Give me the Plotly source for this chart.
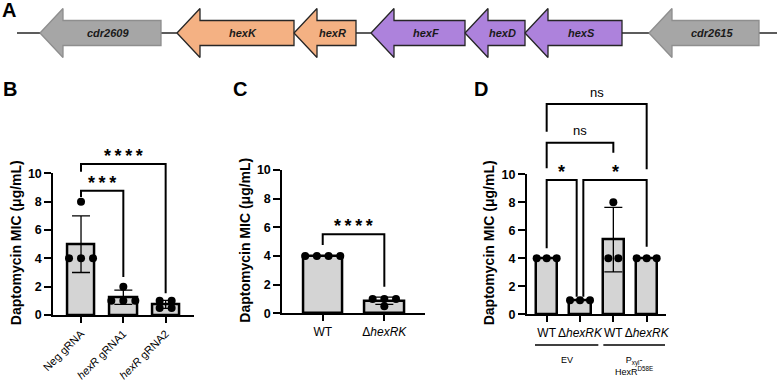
import numpy as np
import plotly.graph_objects as go

W, H = 777, 381
FONT = "Liberation Sans, Arial, Helvetica, sans-serif"

# ---------------- data ----------------
# Panel A: gene neighbourhood (all genes on the minus strand; tip = left end)
gene_names = ["cdr2609", "hexK", "hexR", "hexF", "hexD", "hexS", "cdr2615"]
gene_left = [40, 177, 294, 371, 465, 525, 649]
gene_right = [161, 294, 356, 465, 525, 622, 759]
gene_family = ["other", "hexRK", "hexRK", "hexFDS", "hexFDS", "hexFDS", "other"]
locus_span = [17, 777]

# Panel B
b_categories = ["Neg gRNA", "<i>hexR</i> gRNA1", "<i>hexR</i> gRNA2"]
b_values = [[4, 4, 4, 8], [1, 1, 1, 2], [1, 1, 0.5, 0.5]]
b_comparisons = [  # (from, to, label, top, left leg end, right leg end)
    (0, 2, "****", 10.66, 10.11, 1.53),
    (0, 1, "***", 8.77, 8.33, 2.68),
]

# Panel C
c_categories = ["WT", "Δ<i>hexRK</i>"]
c_values = [[4, 4, 4, 4], [1, 1, 1, 0.5]]
c_comparisons = [(0, 1, "****", 5.51, 4.77, 1.86)]

# Panel D
d_categories = ["WT", "Δ<i>hexRK</i>", "WT", "Δ<i>hexRK</i>"]
d_values = [[4, 4, 4], [1, 1, 1], [4, 4, 8], [4, 4, 4]]
d_comparisons = [
    (0, 3, "ns", 15.02, 13.04, 10.36),
    (0, 2, "ns", 12.26, 10.43, 11.54),
    (0, 0.9, "*", 9.59, 4.71, 1.26),
    (1.1, 3, "*", 9.59, 1.26, 4.83),
]
d_group_labels = ["EV", "P<sub>xyl</sub>-<br>HexR<sup>D58E</sup>"]
d_group_spans = [(-0.35, 1.55), (1.70, 3.55)]

y_ticks = [0, 2, 4, 6, 8, 10]
y_title = "Daptomycin MIC (μg/mL)"


# ---------------- helpers ----------------
def fx(p):
    return p / W


def fy(p):
    return 1 - p / H


def swarm(vals, step):
    totals = {v: vals.count(v) for v in set(vals)}
    seen = {}
    offs = []
    for v in vals:
        k = seen.get(v, 0)
        seen[v] = k + 1
        offs.append((k - (totals[v] - 1) / 2) * step)
    return offs


fig = go.Figure()
annotations = []
shapes = []
layout = {}

# ---------------- panel A ----------------
head_len, body_h, head_h = 23, 12.5, 24.5
fig.add_trace(go.Scatter(x=locus_span, y=[0, 0], mode="lines",
                         line=dict(color="#262626", width=1.3),
                         xaxis="x4", yaxis="y4", hoverinfo="skip"))
fam_style = {"other": ("#a6a6a6", "#8e8e8e"),
             "hexRK": ("#f4b183", "#262626"),
             "hexFDS": ("#ad82dc", "#262626")}
for name, t, e, fam in zip(gene_names, gene_left, gene_right, gene_family):
    b = t + head_len
    xs = [t, b, b, e, e, b, b, t]
    ys = [0, head_h, body_h, body_h, -body_h, -body_h, -head_h, 0]
    fill, lc = fam_style[fam]
    fig.add_trace(go.Scatter(x=xs, y=ys, mode="lines", fill="toself",
                             fillcolor=fill, line=dict(color=lc, width=1.3),
                             xaxis="x4", yaxis="y4", hoverinfo="skip"))
    annotations.append(dict(x=(t + head_len / 2 + e) / 2 + 2, y=0, xref="x4", yref="y4",
                            text=f"<b><i>{name}</i></b>", showarrow=False,
                            font=dict(family=FONT, size=11, color="#1a1a1a")))
layout["xaxis4"] = dict(domain=[0, 1], range=[0, W], visible=False, anchor="y4")
layout["yaxis4"] = dict(domain=[fy(66), 1], range=[-33, 33], visible=False, anchor="x4")

# ---------------- bar panels ----------------
panels = [
    dict(cats=b_categories, vals=b_values, comps=b_comparisons, n="", bn="5",
         xpx=(53.3, 194), y0=315, y10=173.3, xr=(-0.655, 2.67), step=12,
         tickangle=-45, tfs=11, title_x=16),
    dict(cats=c_categories, vals=c_values, comps=c_comparisons, n="2", bn="6",
         xpx=(282.3, 425), y0=313.3, y10=170, xr=(-0.656, 1.66), step=11.7,
         tickangle=0, tfs=12, title_x=245),
    dict(cats=d_categories, vals=d_values, comps=d_comparisons, n="3", bn="7",
         xpx=(527, 666), y0=314.3, y10=174.3, xr=(-0.59, 3.58), step=10,
         tickangle=0, tfs=12, title_x=489),
]

for p in panels:
    xa, ya = "x" + p["n"], "y" + p["n"]
    bxa, bya = "x" + p["bn"], "y" + p["bn"]
    idx = list(range(len(p["cats"])))
    means = [float(np.mean(v)) for v in p["vals"]]
    sds = [float(np.std(v, ddof=1)) for v in p["vals"]]
    px_per_x = (p["xpx"][1] - p["xpx"][0]) / (p["xr"][1] - p["xr"][0])
    scale_y = (p["y0"] - p["y10"]) / 10.0

    fig.add_trace(go.Bar(x=idx, y=means, width=0.64,
                         marker=dict(color="#d4d4d4", line=dict(color="black", width=2.5)),
                         error_y=dict(type="data", array=sds, color="black",
                                      thickness=1.3, width=9),
                         xaxis=xa, yaxis=ya, hoverinfo="skip"))
    px_, py_ = [], []
    for i, v in enumerate(p["vals"]):
        offs = swarm(v, p["step"] / px_per_x)
        px_ += [i + o for o in offs]
        py_ += v
    fig.add_trace(go.Scatter(x=px_, y=py_, mode="markers",
                             marker=dict(color="black", size=8),
                             cliponaxis=False, xaxis=xa, yaxis=ya, hoverinfo="skip"))

    # comparison brackets
    for (a, b, lab, top, lb, rb) in p["comps"]:
        fig.add_trace(go.Scatter(x=[a, a, b, b], y=[lb, top, top, rb], mode="lines",
                                 line=dict(color="black", width=2),
                                 xaxis=bxa, yaxis=bya, hoverinfo="skip"))
        if "*" in lab:
            txt = "\u2009".join(["*"] * len(lab))
            annotations.append(dict(x=(a + b) / 2, y=top, xref=bxa, yref=bya,
                                    text=f"<b>{txt}</b>", showarrow=False,
                                    yanchor="middle", yshift=8,
                                    font=dict(family=FONT, size=18, color="black")))
        else:
            annotations.append(dict(x=(a + b) / 2, y=top, xref=bxa, yref=bya,
                                    text=lab, showarrow=False,
                                    yanchor="middle", yshift=12,
                                    font=dict(family=FONT, size=13, color="black")))

    xdom = [fx(p["xpx"][0]), fx(p["xpx"][1])]
    key = p["n"]
    layout["xaxis" + key] = dict(
        domain=xdom, range=list(p["xr"]), anchor=ya, showline=True, linewidth=2,
        linecolor="black", ticks="outside", ticklen=6, tickwidth=2, tickcolor="black",
        tickvals=idx, ticktext=p["cats"], tickangle=p["tickangle"],
        tickfont=dict(family=FONT, size=p["tfs"], color="black"),
        showgrid=False, zeroline=False, automargin=False, fixedrange=True)
    layout["yaxis" + key] = dict(
        domain=[fy(p["y0"]), fy(p["y10"])], range=[0, 10], anchor=xa,
        showline=True, linewidth=2, linecolor="black", ticks="outside", ticklen=7,
        tickwidth=2, tickcolor="black", tickvals=y_ticks,
        tickfont=dict(family=FONT, size=12.5, color="black", weight="bold"),
        showgrid=False, zeroline=False, automargin=False, fixedrange=True)
    top_px = 40
    layout["xaxis" + p["bn"]] = dict(domain=xdom, range=list(p["xr"]), anchor=bya,
                                     visible=False, fixedrange=True)
    layout["yaxis" + p["bn"]] = dict(domain=[fy(p["y0"]), fy(top_px)],
                                     range=[0, (p["y0"] - top_px) / scale_y],
                                     anchor=bxa, visible=False, fixedrange=True)
    annotations.append(dict(x=fx(p["title_x"]), y=fy((p["y0"] + p["y10"]) / 2 - 1),
                            xref="paper", yref="paper", text=f"<b>{y_title}</b>",
                            textangle=-90, showarrow=False, xanchor="center", yanchor="middle",
                            font=dict(family=FONT, size=14, color="black")))

# panel D grouping lines & labels
for lab, (g0, g1) in zip(d_group_labels, d_group_spans):
    shapes.append(dict(type="line", xref="x3", yref="paper", x0=g0, x1=g1,
                       y0=fy(345), y1=fy(345), line=dict(color="black", width=1.5)))
    annotations.append(dict(x=(g0 + g1) / 2, y=fy(353), xref="x3", yref="paper",
                            text=lab, showarrow=False, yanchor="top",
                            font=dict(family=FONT, size=9, color="black")))

# panel letters (x = left edge px, y = centre px)
for letter, lx, ly in [("A", 0, 10.5), ("B", 1, 89), ("C", 231, 89), ("D", 472, 89)]:
    annotations.append(dict(x=fx(lx), y=fy(ly), xref="paper", yref="paper",
                            text=f"<b>{letter}</b>", showarrow=False,
                            xanchor="left", yanchor="middle",
                            font=dict(family=FONT, size=20, color="black")))

fig.update_layout(
    template="none", width=W, height=H, autosize=False,
    margin=dict(l=0, r=0, t=0, b=0, pad=0),
    paper_bgcolor="white", plot_bgcolor="rgba(0,0,0,0)",
    showlegend=False, annotations=annotations, shapes=shapes,
    font=dict(family=FONT, color="black"), bargap=0,
    **layout,
)
fig.write_html("out.html", config={"displayModeBar": False},
               post_script="document.body.style.margin='0';document.body.style.overflow='hidden';")
